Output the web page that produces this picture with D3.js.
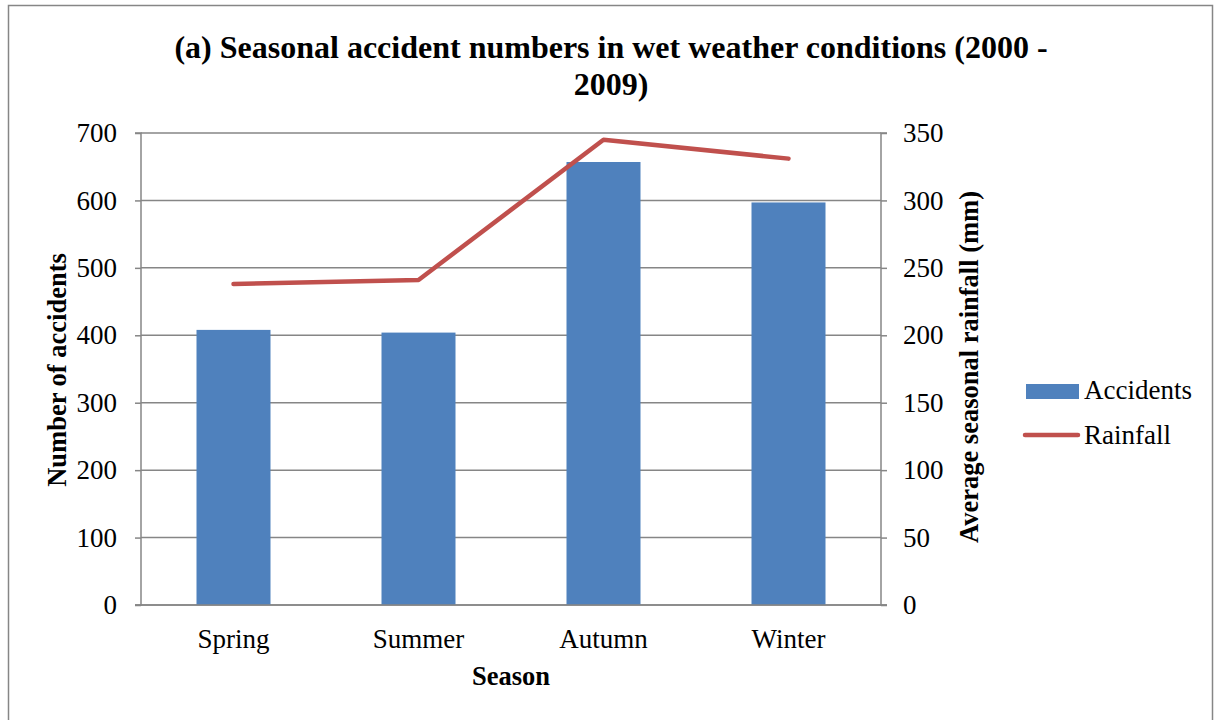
<!DOCTYPE html>
<html><head><meta charset="utf-8">
<script src="https://cdn.jsdelivr.net/npm/d3@7"></script>
<style>body{margin:0;background:#fff;} svg{display:block;}</style>
</head><body>
<svg id="c" width="1218" height="720"></svg>
<script>
const categories = ["Spring", "Summer", "Autumn", "Winter"];
const accidents = [408, 404, 657, 597];
const rainfall = [238, 241, 345, 331];
const leftTicks = [0, 100, 200, 300, 400, 500, 600, 700];
const rightTicks = [0, 50, 100, 150, 200, 250, 300, 350];
const titleLines = ["(a) Seasonal accident numbers in wet weather conditions (2000 -", "2009)"];
const seriesNames = ["Accidents", "Rainfall"];

const svg = d3.select("#c");
const font = "'Liberation Serif','Times New Roman',serif";
const m = {left: 141, right: 881, top: 133, bottom: 605};
const gridCol = "#868686";

svg.append("rect").attr("x", 8.5).attr("y", 5.5).attr("width", 1204).attr("height", 730)
  .attr("fill", "#fff").attr("stroke", "#868686").attr("stroke-width", 1.5);

const x = d3.scaleBand().domain(categories).range([m.left, m.right]).paddingInner(0.6).paddingOuter(0.3);
const xc = d3.scaleBand().domain(categories).range([m.left, m.right]);
const yL = d3.scaleLinear().domain([0, 700]).range([m.bottom, m.top]);
const yR = d3.scaleLinear().domain([0, 350]).range([m.bottom, m.top]);

// gridlines
svg.append("g").selectAll("line").data(leftTicks).join("line")
  .attr("x1", m.left).attr("x2", m.right)
  .attr("y1", d => yL(d)).attr("y2", d => yL(d))
  .attr("stroke", gridCol).attr("stroke-width", 1.5);

// bars
svg.append("g").selectAll("rect").data(accidents).join("rect")
  .attr("x", (d, i) => x(categories[i])).attr("width", x.bandwidth())
  .attr("y", d => yL(d)).attr("height", d => yL(0) - yL(d))
  .attr("fill", "#4F81BD");

// axes
const gl = svg.append("g").attr("transform", `translate(${m.left},0)`)
  .call(d3.axisLeft(yL).tickValues(leftTicks).tickSize(6).tickPadding(18));
const gr = svg.append("g").attr("transform", `translate(${m.right},0)`)
  .call(d3.axisRight(yR).tickValues(rightTicks).tickSize(6).tickPadding(16));
const gb = svg.append("g").attr("transform", `translate(0,${m.bottom})`)
  .call(d3.axisBottom(xc).tickSize(0).tickPadding(24));
[gl, gr, gb].forEach(g => {
  g.selectAll("path").attr("stroke", gridCol).attr("stroke-width", 1.5);
  g.selectAll("line").attr("stroke", gridCol).attr("stroke-width", 1.5);
  g.selectAll("text").attr("font-family", font).attr("font-size", 27).attr("fill", "#000");
});
gl.select("path.domain").attr("d", `M-6,${m.top}H0V${m.bottom}H-6`);
gr.select("path.domain").attr("d", `M6,${m.top}H0V${m.bottom}H6`);
gb.select("path.domain").attr("d", `M${m.left - 6},0H${m.right + 6}`);

// line
const line = d3.line().x((d, i) => xc(categories[i]) + xc.bandwidth() / 2).y(d => yR(d));
svg.append("path").datum(rainfall).attr("d", line)
  .attr("fill", "none").attr("stroke", "#C0504D").attr("stroke-width", 4.5)
  .attr("stroke-linecap", "round").attr("stroke-linejoin", "round");

// title
svg.append("text").attr("font-family", font).attr("font-weight", "bold").attr("font-size", 32)
  .attr("text-anchor", "middle")
  .selectAll("tspan").data(titleLines).join("tspan")
  .attr("x", 611).attr("y", (d, i) => 58 + i * 37).text(d => d);

// axis titles
svg.append("text").attr("font-family", font).attr("font-weight", "bold").attr("font-size", 26.5)
  .attr("text-anchor", "middle").attr("x", 511).attr("y", 685).text("Season");
svg.append("text").attr("font-family", font).attr("font-weight", "bold").attr("font-size", 26.5)
  .attr("text-anchor", "middle").attr("transform", "translate(66,370) rotate(-90)").text("Number of accidents");
svg.append("text").attr("font-family", font).attr("font-weight", "bold").attr("font-size", 26.5)
  .attr("text-anchor", "middle").attr("transform", "translate(978,367) rotate(-90)").text("Average seasonal rainfall (mm)");

// legend
const lg = svg.append("g");
lg.append("rect").attr("x", 1026).attr("y", 384).attr("width", 53).attr("height", 15).attr("fill", "#4F81BD");
lg.append("line").attr("x1", 1025).attr("x2", 1078).attr("y1", 435).attr("y2", 435)
  .attr("stroke", "#C0504D").attr("stroke-width", 4.5).attr("stroke-linecap", "round");
lg.selectAll("text").data(seriesNames).join("text")
  .attr("font-family", font).attr("font-size", 27)
  .attr("x", 1084).attr("y", (d, i) => 399 + i * 45).text(d => d);
</script>
</body></html>
